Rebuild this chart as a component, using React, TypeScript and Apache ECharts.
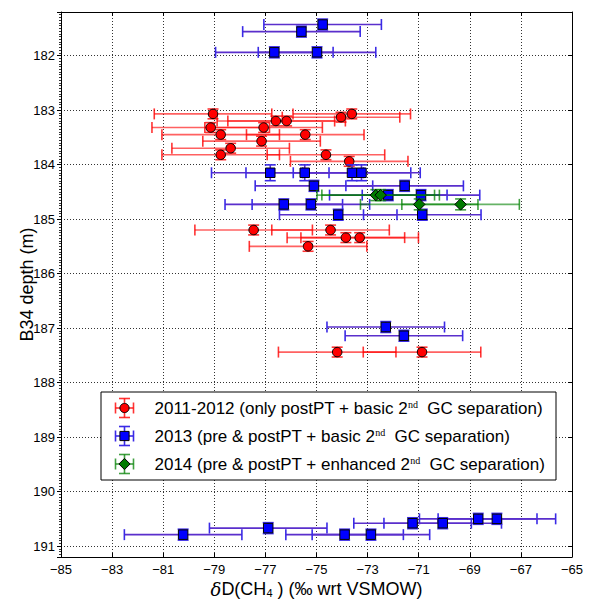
import React, { useEffect, useRef } from 'react';
import * as echarts from 'echarts';

// ---- Data ----
const seriesNames = [
  '2011-2012 (only postPT + basic 2nd GC separation)',
  '2013 (pre & postPT + basic 2nd GC separation)',
  '2014 (pre & postPT + enhanced 2nd GC separation)',
];

// 2011-2012 (red circles)
const redX = [-79.05, -73.62, -74.04, -76.59, -76.17, -79.14, -77.07, -78.75, -75.44, -77.15, -78.36, -78.75, -74.63, -73.72, -77.46, -74.45, -73.85, -73.31, -75.33, -74.19, -70.87];
const redY = [183.07, 183.07, 183.13, 183.2, 183.2, 183.32, 183.32, 183.45, 183.45, 183.57, 183.7, 183.82, 183.82, 183.94, 185.2, 185.2, 185.34, 185.34, 185.5, 187.44, 187.44];
const redXErr = [2.3, 2.3, 2.3, 2.3, 2.3, 2.3, 2.3, 2.3, 2.3, 2.3, 2.3, 2.3, 2.3, 2.3, 2.3, 2.3, 2.3, 2.3, 2.3, 2.3, 2.3];
const redYErr = [0.09, 0.09, 0.09, 0.09, 0.09, 0.09, 0.09, 0.09, 0.09, 0.09, 0.09, 0.09, 0.09, 0.09, 0.09, 0.09, 0.09, 0.09, 0.09, 0.09, 0.09];

// 2013 (blue squares)
const blueX = [-74.76, -75.59, -76.65, -74.98, -76.81, -75.46, -73.61, -73.24, -75.1, -71.55, -72.19, -70.91, -76.28, -75.22, -74.15, -70.86, -72.29, -71.58, -68.67, -67.94, -71.24, -70.06, -76.89, -80.22, -73.9, -72.87];
const blueY = [181.43, 181.56, 181.94, 181.94, 184.15, 184.15, 184.15, 184.15, 184.39, 184.39, 184.56, 184.56, 184.73, 184.73, 184.92, 184.92, 186.98, 187.14, 190.5, 190.5, 190.58, 190.58, 190.67, 190.79, 190.79, 190.79];
const blueXErr = [2.3, 2.3, 2.3, 2.3, 2.3, 2.3, 2.3, 2.3, 2.3, 2.3, 2.3, 2.3, 2.3, 2.3, 2.3, 2.3, 2.3, 2.3, 2.3, 2.3, 2.3, 2.3, 2.3, 2.3, 2.3, 2.3];
const blueYErr = [0.1, 0.1, 0.1, 0.1, 0.145, 0.145, 0.145, 0.145, 0.1, 0.1, 0.1, 0.1, 0.1, 0.1, 0.1, 0.1, 0.1, 0.1, 0.1, 0.1, 0.1, 0.1, 0.1, 0.1, 0.1, 0.1];

// 2014 (green diamonds)
const greenX = [-72.68, -72.49, -70.98, -69.36];
const greenY = [184.56, 184.56, 184.73, 184.73];
const greenXErr = [2.3, 2.3, 2.3, 2.3];
const greenYErr = [0.1, 0.1, 0.1, 0.1];

const xMin = -85;
const xMax = -65;
const xStep = 2;
const yMin = 181.2;
const yMax = 191.2;

const FONT = 'Liberation Sans, Arial, sans-serif';

function rows(xs: number[], ys: number[], xe: number[], ye: number[]) {
  return xs.map((x, i) => [x, ys[i], xe[i], ye[i]]);
}

function errRender(lineColor: string, capColor: string) {
  return (params: any, api: any) => {
    const x = api.value(0);
    const y = api.value(1);
    const xe = api.value(2);
    const ye = api.value(3);
    const l = api.coord([x - xe, y]);
    const r = api.coord([x + xe, y]);
    const t = api.coord([x, y - ye]);
    const b = api.coord([x, y + ye]);
    const cap = 5.5;
    const ls = { stroke: lineColor, lineWidth: 1.6 };
    const cs = { stroke: capColor, lineWidth: 1.6 };
    return {
      type: 'group',
      children: [
        { type: 'line', shape: { x1: l[0], y1: l[1], x2: r[0], y2: r[1] }, style: ls },
        { type: 'line', shape: { x1: l[0], y1: l[1] - cap, x2: l[0], y2: l[1] + cap }, style: cs },
        { type: 'line', shape: { x1: r[0], y1: r[1] - cap, x2: r[0], y2: r[1] + cap }, style: cs },
        { type: 'line', shape: { x1: t[0], y1: t[1], x2: b[0], y2: b[1] }, style: ls },
        { type: 'line', shape: { x1: t[0] - cap, y1: t[1], x2: t[0] + cap, y2: t[1] }, style: cs },
        { type: 'line', shape: { x1: b[0] - cap, y1: b[1], x2: b[0] + cap, y2: b[1] }, style: cs },
      ],
    };
  };
}

const red = { fill: '#ff0000', line: 'rgba(255,0,0,0.62)', cap: 'rgba(255,0,0,0.8)' };
const blue = { fill: '#0000ff', line: '#5a2fcc', cap: '#3a2ae6' };
const green = { fill: '#007a00', line: 'rgba(0,128,0,0.6)', cap: 'rgba(0,128,0,0.75)' };

// legend icon drawing (error-bar cross + marker)
function legendIcon(cx: number, cy: number, c: { fill: string; line: string; cap: string }, marker: string) {
  const hw = 9;
  const hh = 9.5;
  const cap = 5.5;
  const st = { stroke: c.cap, lineWidth: 1.6 };
  const els: any[] = [
    { type: 'line', z: 11, shape: { x1: cx - hw, y1: cy, x2: cx + hw, y2: cy }, style: st },
    { type: 'line', z: 11, shape: { x1: cx - hw, y1: cy - cap, x2: cx - hw, y2: cy + cap }, style: st },
    { type: 'line', z: 11, shape: { x1: cx + hw, y1: cy - cap, x2: cx + hw, y2: cy + cap }, style: st },
    { type: 'line', z: 11, shape: { x1: cx, y1: cy - hh, x2: cx, y2: cy + hh }, style: st },
    { type: 'line', z: 11, shape: { x1: cx - cap, y1: cy - hh, x2: cx + cap, y2: cy - hh }, style: st },
    { type: 'line', z: 11, shape: { x1: cx - cap, y1: cy + hh, x2: cx + cap, y2: cy + hh }, style: st },
  ];
  const ms = { fill: c.fill, stroke: '#000', lineWidth: 1 };
  if (marker === 'circle') els.push({ type: 'circle', z: 12, shape: { cx, cy, r: 4.6 }, style: ms });
  if (marker === 'rect') els.push({ type: 'rect', z: 12, shape: { x: cx - 4.6, y: cy - 4.6, width: 9.2, height: 9.2 }, style: ms });
  if (marker === 'diamond')
    els.push({ type: 'polygon', z: 12, shape: { points: [[cx, cy - 5.6], [cx + 5.6, cy], [cx, cy + 5.6], [cx - 5.6, cy]] }, style: ms });
  return els;
}

export default function App() {
  const ref = useRef<HTMLDivElement>(null);
  useEffect(() => {
    const chart = echarts.init(ref.current!, null, { renderer: 'svg' });
    const gridLeft = 61;
    const gridTop = 12;
    const gridRight = 32;
    const gridBottom = 42;

    const legendRow0 = 408;
    const legendRowGap = 28;
    const iconX = 124.5;

    const option: any = {
      animation: false,
      backgroundColor: '#fff',
      grid: {
        left: gridLeft,
        right: gridRight,
        top: gridTop,
        bottom: gridBottom,
        containLabel: false,
        outerBoundsMode: 'none',
      },
      xAxis: [
        {
          type: 'value',
          min: xMin,
          max: xMax,
          interval: xStep,
          position: 'bottom',
          name: '{i|δ}D(CH{sub|4} ) (‰ wrt VSMOW)',
          nameLocation: 'middle',
          nameGap: 23,
          nameMoveOverlap: false,
          nameTextStyle: {
            color: '#000',
            fontSize: 18,
            fontFamily: FONT,
            rich: {
              i: { fontStyle: 'italic', fontFamily: 'DejaVu Serif, Liberation Serif, serif', fontSize: 18, color: '#000' },
              sub: { fontSize: 11, verticalAlign: 'bottom', color: '#000', fontFamily: FONT },
            },
          },
          axisLine: { show: true, onZero: false, lineStyle: { color: '#000', width: 1 } },
          axisTick: { show: true, inside: true, length: 4, lineStyle: { color: '#000' } },
          axisLabel: {
            color: '#000',
            fontSize: 13,
            fontFamily: FONT,
            margin: 6,
            formatter: (v: number) => String(v).replace('-', '\u2212'),
          },
          splitLine: { show: true, lineStyle: { color: '#333', type: [1, 2], width: 1 } },
        },
        {
          type: 'value',
          min: xMin,
          max: xMax,
          interval: xStep,
          position: 'top',
          axisLine: { show: true, onZero: false, lineStyle: { color: '#000', width: 1 } },
          axisTick: { show: true, inside: true, length: 4, lineStyle: { color: '#000' } },
          axisLabel: { show: false },
          splitLine: { show: false },
        },
      ],
      yAxis: [
        {
          type: 'value',
          inverse: true,
          min: yMin,
          max: yMax,
          splitNumber: 10,
          position: 'left',
          name: 'B34 depth (m)',
          nameLocation: 'middle',
          nameGap: 25,
          nameMoveOverlap: false,
          nameTextStyle: { color: '#000', fontSize: 18, fontFamily: FONT },
          axisLine: { show: true, onZero: false, lineStyle: { color: '#000', width: 1 } },
          axisTick: { show: true, inside: false, length: 4, lineStyle: { color: '#000' } },
          minorTick: { show: true, splitNumber: 20, length: 2, lineStyle: { color: '#333' } },
          axisLabel: {
            color: '#000',
            fontSize: 13,
            fontFamily: FONT,
            margin: 6,
            showMinLabel: false,
            showMaxLabel: false,
          },
          splitLine: { show: true, lineStyle: { color: '#333', type: [1, 2], width: 1 } },
        },
        {
          type: 'value',
          inverse: true,
          min: yMin,
          max: yMax,
          splitNumber: 10,
          position: 'right',
          axisLine: { show: true, onZero: false, lineStyle: { color: '#000', width: 1 } },
          axisTick: { show: true, inside: true, length: 4, lineStyle: { color: '#000' } },
          axisLabel: { show: false },
          splitLine: { show: false },
        },
      ],
      legend: {
        show: true,
        orient: 'vertical',
        left: 99.5,
        top: legendRow0 - 9,
        padding: 0,
        itemWidth: 50,
        itemHeight: 18,
        itemGap: legendRowGap - 18,
        selectedMode: false,
        z: 13,
        data: seriesNames.map((n) => ({ name: n, icon: 'none' })),
        formatter: (n: string) => n.replace('2nd ', '2{sup|nd}  '),
        textStyle: {
          color: '#000',
          fontSize: 17,
          fontFamily: FONT,
          lineHeight: 18,
          rich: {
            sup: { fontSize: 10, verticalAlign: 'top', lineHeight: 12, color: '#000', fontFamily: 'Liberation Serif, serif' },
          },
        },
      },
      graphic: [
        {
          type: 'rect',
          z: 10,
          shape: { x: 101, y: 392, width: 455, height: 88 },
          style: { fill: '#fff', stroke: '#000', lineWidth: 1 },
        },
        ...legendIcon(iconX, legendRow0, red, 'circle'),
        ...legendIcon(iconX, legendRow0 + legendRowGap, blue, 'rect'),
        ...legendIcon(iconX, legendRow0 + 2 * legendRowGap, green, 'diamond'),
      ],
      series: [
        {
          name: 'err-2011-2012',
          type: 'custom',
          z: 2,
          renderItem: errRender(red.line, red.cap),
          encode: { x: 0, y: 1 },
          data: rows(redX, redY, redXErr, redYErr),
        },
        {
          name: seriesNames[0],
          type: 'scatter',
          z: 3,
          symbol: 'circle',
          symbolSize: 9.5,
          itemStyle: { color: red.fill, borderColor: '#000', borderWidth: 1, opacity: 1 },
          data: redX.map((x, i) => [x, redY[i]]),
        },
        {
          name: 'err-2013',
          type: 'custom',
          z: 4,
          renderItem: errRender(blue.line, blue.cap),
          encode: { x: 0, y: 1 },
          data: rows(blueX, blueY, blueXErr, blueYErr),
        },
        {
          name: seriesNames[1],
          type: 'scatter',
          z: 5,
          symbol: 'rect',
          symbolSize: 9.5,
          itemStyle: { color: blue.fill, borderColor: '#000', borderWidth: 1, opacity: 1 },
          data: blueX.map((x, i) => [x, blueY[i]]),
        },
        {
          name: 'err-2014',
          type: 'custom',
          z: 6,
          renderItem: errRender(green.line, green.cap),
          encode: { x: 0, y: 1 },
          data: rows(greenX, greenY, greenXErr, greenYErr),
        },
        {
          name: seriesNames[2],
          type: 'scatter',
          z: 7,
          symbol: 'diamond',
          symbolSize: 11.5,
          itemStyle: { color: green.fill, borderColor: '#000', borderWidth: 1, opacity: 1 },
          data: greenX.map((x, i) => [x, greenY[i]]),
        },
      ],
    };
    chart.setOption(option);
    return () => chart.dispose();
  }, []);
  return <div ref={ref} style={{ position: 'absolute', left: 0, top: 0, width: 604, height: 599 }} />;
}
